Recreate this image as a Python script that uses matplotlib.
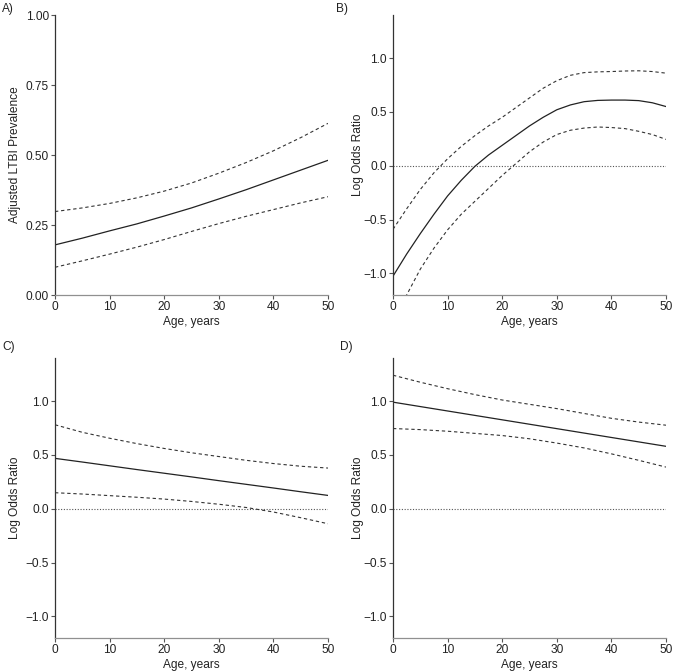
import matplotlib
matplotlib.use("Agg")
import matplotlib.pyplot as plt

plt.rcParams['font.family'] = ['Liberation Sans', 'DejaVu Sans']

age = [0, 5, 10, 15, 20, 25, 30, 35, 40, 45, 50]
age_b = [0, 2.5, 5, 7.5, 10, 12.5, 15, 17.5, 20, 22.5, 25, 27.5, 30, 32.5, 35, 37.5, 40, 42.5, 45, 47.5, 50]

# Panel A: adjusted LTBI prevalence
a_est = [0.179, 0.203, 0.229, 0.254, 0.282, 0.311, 0.343, 0.376, 0.411, 0.446, 0.481]
a_up = [0.298, 0.311, 0.327, 0.347, 0.371, 0.400, 0.435, 0.473, 0.515, 0.562, 0.613]
a_lo = [0.099, 0.122, 0.146, 0.171, 0.198, 0.227, 0.255, 0.281, 0.305, 0.329, 0.351]

# Panel B
b_est = [-1.025, -0.82, -0.63, -0.45, -0.28, -0.135, -0.005, 0.10, 0.19, 0.28, 0.37, 0.45, 0.52,
         0.565, 0.595, 0.607, 0.61, 0.61, 0.605, 0.585, 0.55]
b_up = [-0.59, -0.40, -0.22, -0.065, 0.065, 0.18, 0.28, 0.37, 0.45, 0.54, 0.63, 0.72, 0.79,
        0.84, 0.865, 0.872, 0.875, 0.88, 0.882, 0.875, 0.86]
b_lo = [-1.48, -1.20, -0.96, -0.765, -0.595, -0.45, -0.33, -0.21, -0.09, 0.02, 0.13, 0.22, 0.29,
        0.33, 0.35, 0.36, 0.355, 0.345, 0.32, 0.29, 0.245]

# Panel C
c_est = [0.468, 0.434, 0.399, 0.364, 0.330, 0.296, 0.261, 0.227, 0.193, 0.158, 0.124]
c_up = [0.78, 0.71, 0.655, 0.605, 0.56, 0.52, 0.485, 0.45, 0.42, 0.395, 0.378]
c_lo = [0.149, 0.137, 0.122, 0.107, 0.090, 0.068, 0.042, 0.012, -0.030, -0.083, -0.139]

# Panel D
d_est = [0.99, 0.949, 0.908, 0.867, 0.826, 0.785, 0.744, 0.703, 0.662, 0.621, 0.58]
d_up = [1.24, 1.175, 1.115, 1.06, 1.01, 0.97, 0.93, 0.885, 0.84, 0.805, 0.776]
d_lo = [0.745, 0.735, 0.72, 0.70, 0.68, 0.65, 0.61, 0.565, 0.51, 0.45, 0.387]

panel_labels = ['A)', 'B)', 'C)', 'D)']
xticks = [0, 10, 20, 30, 40, 50]

fig = plt.figure(figsize=(6.73, 6.71), dpi=100)
W, H = 673, 671
FS = 8.6

def make_ax(x0, x1, ytop, ybot):
    return fig.add_axes([x0 / W, (H - ybot) / H, (x1 - x0) / W, (ybot - ytop) / H])

axA = make_ax(55, 328, 15, 295)
axB = make_ax(393, 666, 15, 295)
axC = make_ax(55, 328, 358, 638)
axD = make_ax(393, 666, 358, 638)

def style(ax):
    for s in ['top', 'right']:
        ax.spines[s].set_visible(False)
    ax.spines['left'].set_color('#333333')
    ax.spines['bottom'].set_color('#909090')
    ax.spines['left'].set_linewidth(0.9)
    ax.spines['bottom'].set_linewidth(0.9)
    ax.tick_params(axis='both', direction='out', length=3, width=0.8, color='#555555',
                   labelsize=FS, labelcolor='#222222', pad=1.5)
    ax.set_xlim(0, 50)
    ax.set_xticks(xticks)
    ax.set_xlabel('Age, years', fontsize=FS, color='#222222', labelpad=2)
    ax.patch.set_alpha(0)

def draw(ax, x, est, up, lo, ref=True):
    if ref:
        ax.axhline(0, color='#555555', lw=0.8, ls=(0, (1, 1.5)))
    ax.plot(x, est, color='#222222', lw=0.9)
    ax.plot(x, up, color='#333333', lw=0.8, ls=(0, (3, 2.5)))
    ax.plot(x, lo, color='#333333', lw=0.8, ls=(0, (3, 2.5)))

style(axA)
draw(axA, age, a_est, a_up, a_lo, ref=False)
axA.set_ylim(0, 1.0)
axA.set_yticks([0, 0.25, 0.5, 0.75, 1.0])
axA.set_yticklabels(['0.00', '0.25', '0.50', '0.75', '1.00'])
axA.set_ylabel('Adjusted LTBI Prevalence', fontsize=FS, color='#222222')
axA.yaxis.set_label_coords(-0.125, 0.5)

for ax, x, (e, u, l), lx in zip([axB, axC, axD], [age_b, age, age],
                                [(b_est, b_up, b_lo), (c_est, c_up, c_lo), (d_est, d_up, d_lo)],
                                [-0.108, -0.123, -0.108]):
    style(ax)
    draw(ax, x, e, u, l)
    ax.set_ylim(-1.2, 1.4)
    ax.set_yticks([-1.0, -0.5, 0.0, 0.5, 1.0])
    ax.set_yticklabels(['\u22121.0', '\u22120.5', '0.0', '0.5', '1.0'])
    ax.set_ylabel('Log Odds Ratio', fontsize=FS, color='#222222')
    ax.yaxis.set_label_coords(lx, 0.5)

for lab, (px, py) in zip(panel_labels, [(2, 9), (336, 9), (2, 347), (340, 347)]):
    fig.text(px / W, 1 - py / H, lab, fontsize=FS, color='#222222', va='center', ha='left')

fig.savefig('out.png', dpi=100)
